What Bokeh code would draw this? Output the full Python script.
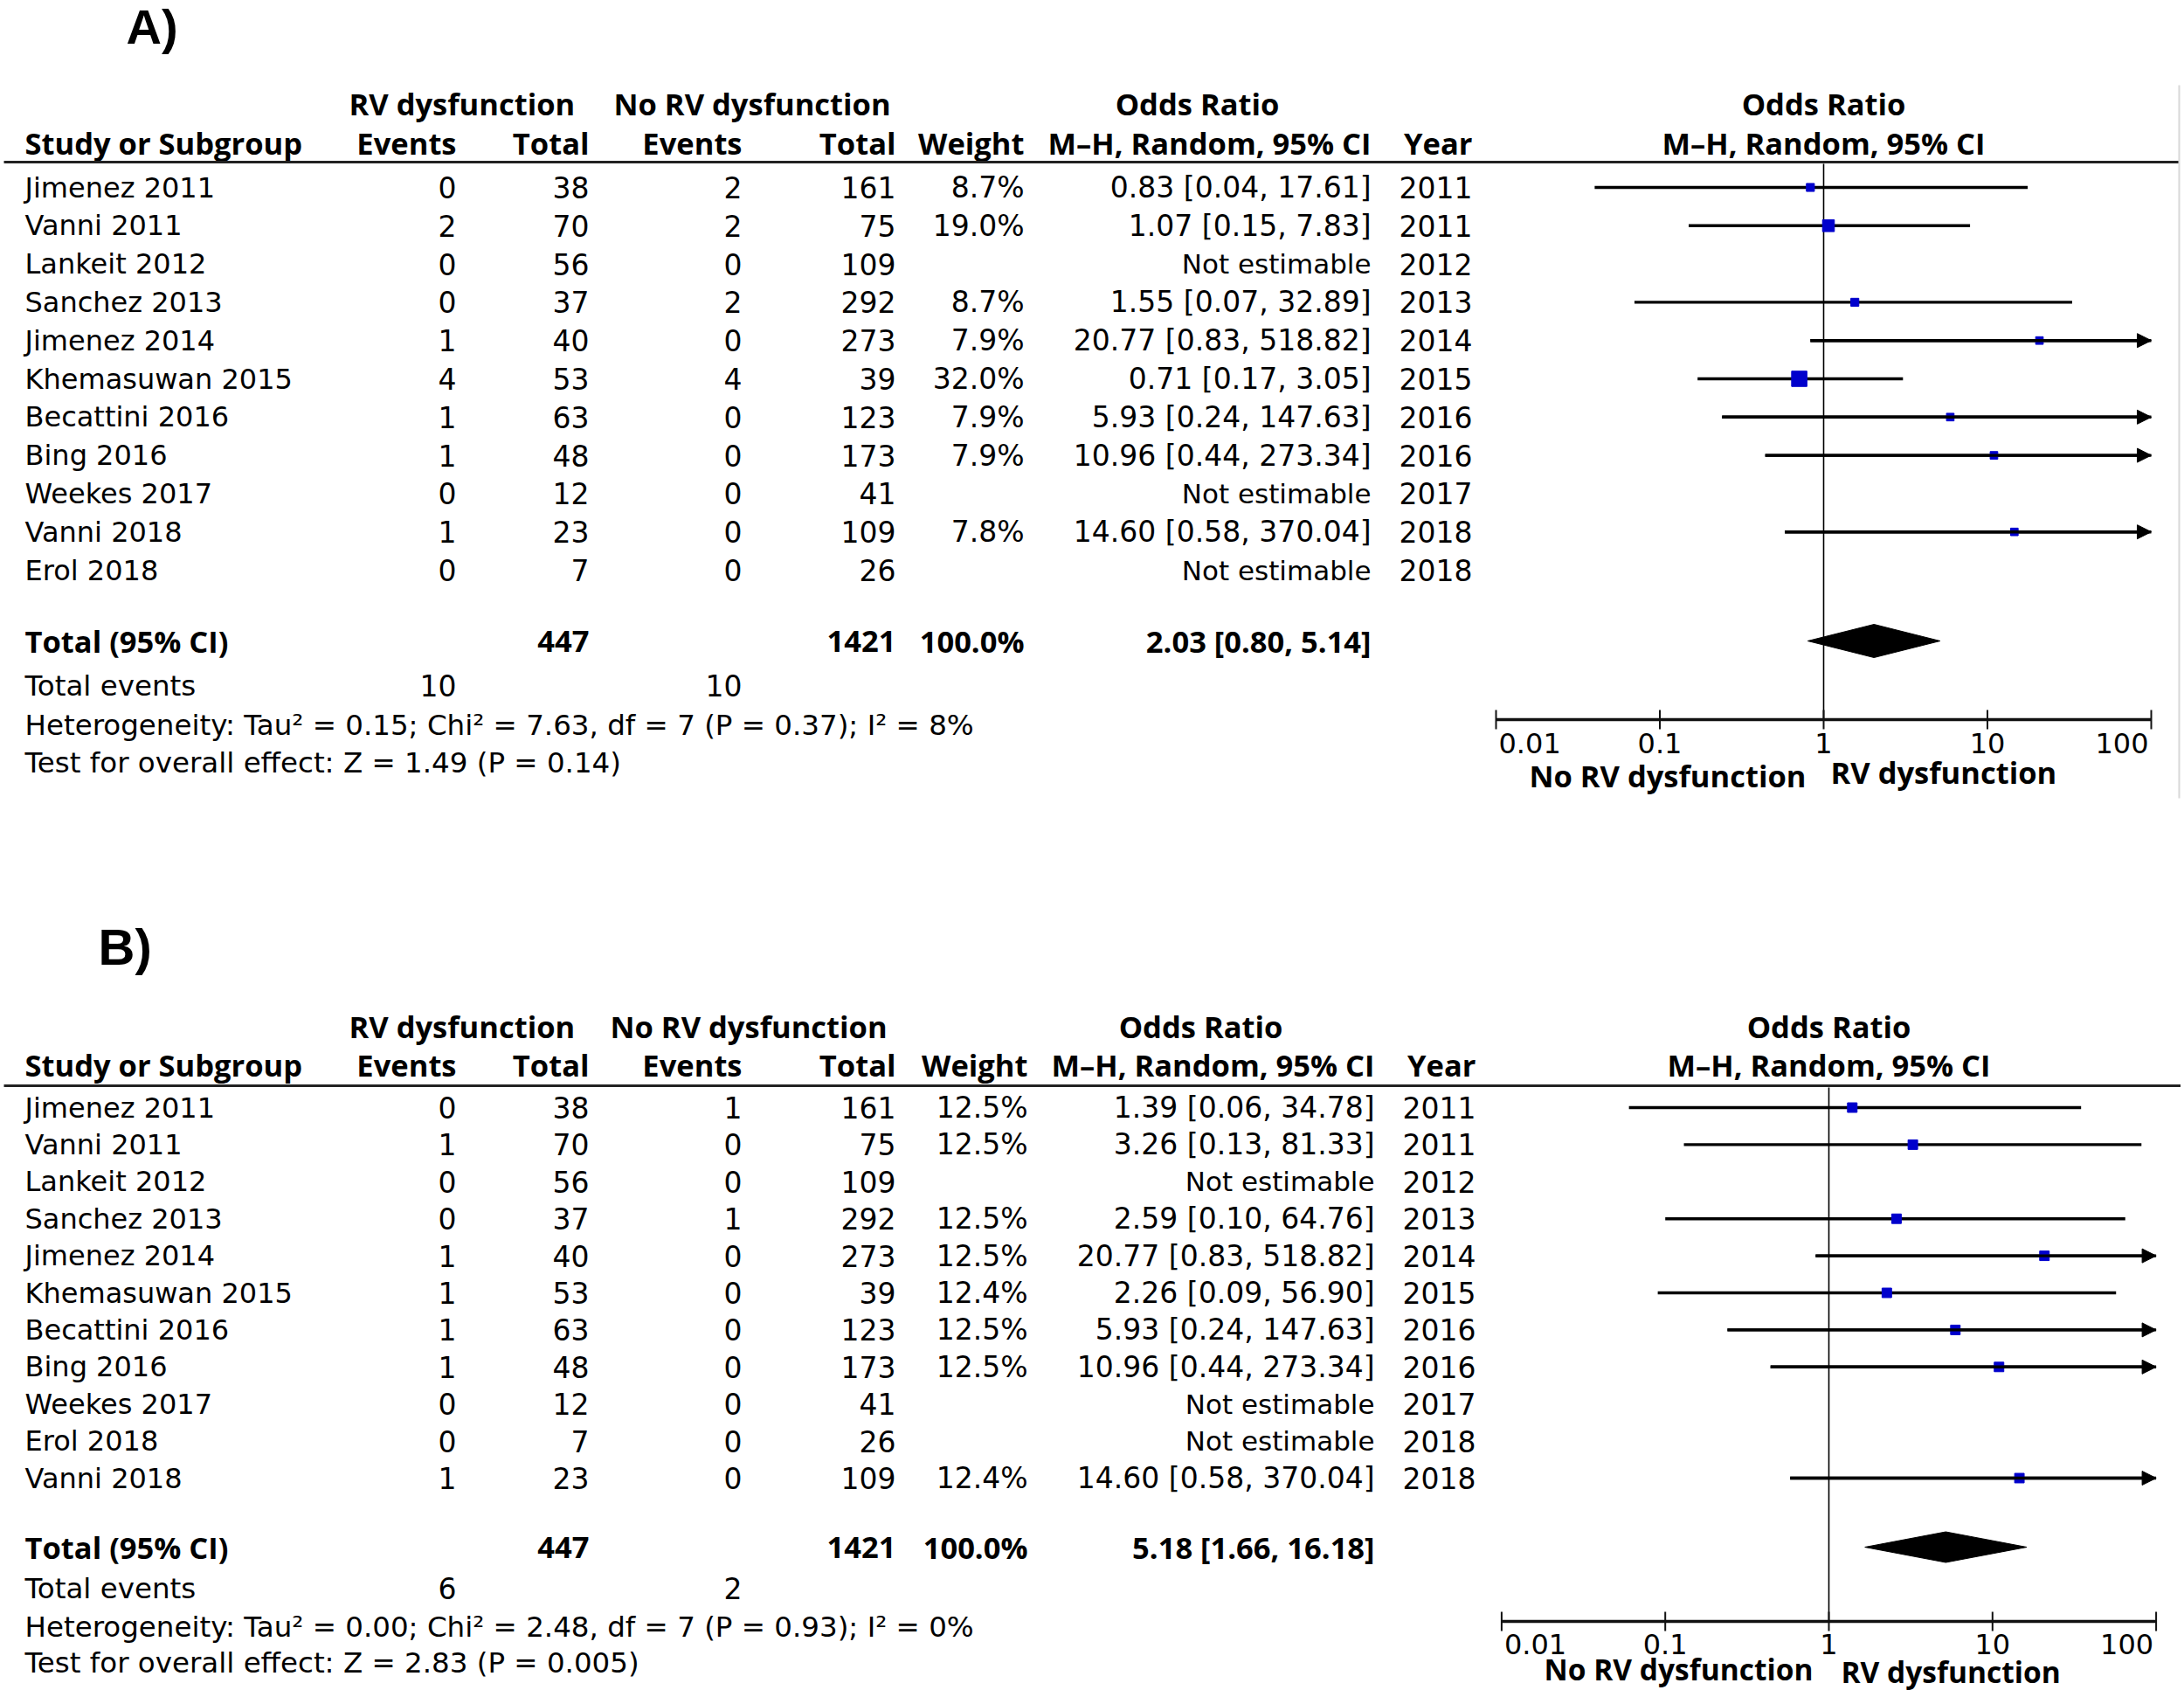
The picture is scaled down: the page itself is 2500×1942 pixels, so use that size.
import math
from bokeh.plotting import figure
from bokeh.models import Range1d, LogScale, Arrow, NormalHead, ColumnDataSource
from bokeh.core.properties import value
from bokeh.embed import file_html
from bokeh.resources import INLINE

# ---------------- data: panel A ----------------
studies_A = ["Jimenez 2011", "Vanni 2011", "Lankeit 2012", "Sanchez 2013", "Jimenez 2014",
             "Khemasuwan 2015", "Becattini 2016", "Bing 2016", "Weekes 2017", "Vanni 2018", "Erol 2018"]
rv_events_A = [0, 2, 0, 0, 1, 4, 1, 1, 0, 1, 0]
rv_total_A = [38, 70, 56, 37, 40, 53, 63, 48, 12, 23, 7]
norv_events_A = [2, 2, 0, 2, 0, 4, 0, 0, 0, 0, 0]
norv_total_A = [161, 75, 109, 292, 273, 39, 123, 173, 41, 109, 26]
weight_A = [8.7, 19.0, None, 8.7, 7.9, 32.0, 7.9, 7.9, None, 7.8, None]
or_A = [0.83, 1.07, None, 1.55, 20.77, 0.71, 5.93, 10.96, None, 14.60, None]
lo_A = [0.04, 0.15, None, 0.07, 0.83, 0.17, 0.24, 0.44, None, 0.58, None]
hi_A = [17.61, 7.83, None, 32.89, 518.82, 3.05, 147.63, 273.34, None, 370.04, None]
year_A = [2011, 2011, 2012, 2013, 2014, 2015, 2016, 2016, 2017, 2018, 2018]
totals_A = [447, 1421]
total_events_A = [10, 10]
pooled_A = [2.03, 0.80, 5.14]
het_A = ["0.15", "7.63", "7", "0.37", "8%"]
overall_A = ["1.49", "0.14"]

# ---------------- data: panel B ----------------
studies_B = ["Jimenez 2011", "Vanni 2011", "Lankeit 2012", "Sanchez 2013", "Jimenez 2014",
             "Khemasuwan 2015", "Becattini 2016", "Bing 2016", "Weekes 2017", "Erol 2018", "Vanni 2018"]
rv_events_B = [0, 1, 0, 0, 1, 1, 1, 1, 0, 0, 1]
rv_total_B = [38, 70, 56, 37, 40, 53, 63, 48, 12, 7, 23]
norv_events_B = [1, 0, 0, 1, 0, 0, 0, 0, 0, 0, 0]
norv_total_B = [161, 75, 109, 292, 273, 39, 123, 173, 41, 26, 109]
weight_B = [12.5, 12.5, None, 12.5, 12.5, 12.4, 12.5, 12.5, None, None, 12.4]
or_B = [1.39, 3.26, None, 2.59, 20.77, 2.26, 5.93, 10.96, None, None, 14.60]
lo_B = [0.06, 0.13, None, 0.10, 0.83, 0.09, 0.24, 0.44, None, None, 0.58]
hi_B = [34.78, 81.33, None, 64.76, 518.82, 56.90, 147.63, 273.34, None, None, 370.04]
year_B = [2011, 2011, 2012, 2013, 2014, 2015, 2016, 2016, 2017, 2018, 2018]
totals_B = [447, 1421]
total_events_B = [6, 2]
pooled_B = [5.18, 1.66, 16.18]
het_B = ["0.00", "2.48", "7", "0.93", "0%"]
overall_B = ["2.83", "0.005"]

tick_values = [0.01, 0.1, 1, 10, 100]
tick_labels = ["0.01", "0.1", "1", "10", "100"]
favours_left = "No RV dysfunction"
favours_right = "RV dysfunction"

# ---------------- figure ----------------
X0, X1 = 0, 2496
Y0, Y1 = 0, 1938
p = figure(width=X1 - X0, height=Y1 - Y0, x_range=Range1d(X0, X1), y_range=Range1d(Y1, Y0),
           output_backend="svg", toolbar_location=None, min_border=0,
           x_axis_location=None, y_axis_location=None, outline_line_color=None,
           background_fill_color="white", border_fill_color="white")
p.grid.visible = False

BODY = "DejaVu Sans"
HEAD = "Open Sans"
TS = 32     # body text size
NS = 33     # numbers size
HS = 34.5   # bold header size


def log_range(c, d):
    return Range1d(10 ** ((X0 - c) / d), 10 ** ((X1 - c) / d))


p.extra_x_ranges = {"logA": log_range(2087, 187.5), "logB": log_range(2093, 187.3)}
p.extra_x_scales = {"logA": LogScale(), "logB": LogScale()}


def txt(xs, ys, texts, align="left", bold=False, size=TS, font=BODY, rn="default",
        baseline="middle", x_offset=0):
    p.text(x=xs, y=ys, text=texts, text_font=value(font), text_font_size=f"{size}px",
           text_font_style="bold" if bold else "normal", text_align=align,
           text_baseline=baseline, text_color="#000000", x_range_name=rn, x_offset=x_offset)


def panel(L, studies, rve, rvt, nre, nrt, wt, orr, lo, hi, yr, totals, tev, pooled, het, ovl):
    rn = L["rn"]
    n = len(studies)
    ys = [L["row0"] + i * L["step"] for i in range(n)]
    # panel letter
    txt([L["lab_x"]], [L["lab_y"]], [L["label"]], bold=True, size=L["lab_size"],
        font="Liberation Sans")
    # header row 1
    h1 = L["h1"]
    txt([399], [h1], ["RV dysfunction"], bold=True, size=HS, font=HEAD)
    txt([L["nrv_x"]], [h1], ["No RV dysfunction"], bold=True, size=HS, font=HEAD)
    txt([L["or_c"]], [h1], ["Odds Ratio"], align="center", bold=True, size=HS, font=HEAD)
    txt([1], [h1], ["Odds Ratio"], align="center", bold=True, size=HS, font=HEAD, rn=rn)
    # header row 2
    h2 = L["h2"]
    txt([28], [h2], ["Study or Subgroup"], bold=True, size=HS, font=HEAD)
    txt([522, 674, 849, 1025, L["w_r"], L["ci_r"], L["yr_r"]], [h2] * 7,
        ["Events", "Total", "Events", "Total", "Weight", "M\u2013H, Random, 95% CI", "Year"],
        align="right", bold=True, size=HS, font=HEAD)
    txt([1], [h2], ["M\u2013H, Random, 95% CI"], align="center", bold=True, size=HS, font=HEAD, rn=rn)
    # rule
    p.segment(x0=[4], x1=[L["rule_end"]], y0=[L["rule"]], y1=[L["rule"]], line_color="#222222", line_width=3)
    # body
    txt([28] * n, ys, studies)
    txt([522] * n, ys, [str(v) for v in rve], align="right", size=NS)
    txt([674] * n, ys, [str(v) for v in rvt], align="right", size=NS)
    txt([849] * n, ys, [str(v) for v in nre], align="right", size=NS)
    txt([1025] * n, ys, [str(v) for v in nrt], align="right", size=NS)
    txt([L["w_r"]] * n, ys, ["" if w is None else f"{w:.1f}%" for w in wt], align="right", size=NS)
    est = [i for i in range(n) if orr[i] is not None]
    ne = [i for i in range(n) if orr[i] is None]
    txt([L["ci_r"]] * len(est), [ys[i] for i in est],
        [f"{orr[i]:.2f} [{lo[i]:.2f}, {hi[i]:.2f}]" for i in est], align="right", size=NS)
    txt([L["ci_r"]] * len(ne), [ys[i] for i in ne], ["Not estimable"] * len(ne), align="right", size=31)
    txt([L["yr_r"]] * n, ys, [str(v) for v in yr], align="right", size=NS)
    # totals
    ty = L["tot"]
    txt([28], [ty], ["Total (95% CI)"], bold=True, size=HS, font=HEAD)
    txt([674, 1025, L["w_r"]], [ty] * 3, [str(totals[0]), str(totals[1]), "100.0%"],
        align="right", bold=True, size=HS, font=HEAD)
    txt([L["ci_r"]], [ty], [f"{pooled[0]:.2f} [{pooled[1]:.2f}, {pooled[2]:.2f}]"],
        align="right", bold=True, size=HS, font=HEAD)
    txt([28], [L["tev"]], ["Total events"], size=32.5)
    txt([522, 849], [L["tev"]] * 2, [str(tev[0]), str(tev[1])], align="right", size=NS)
    txt([28], [L["het"]], [f"Heterogeneity: Tau\u00b2 = {het[0]}; Chi\u00b2 = {het[1]}, df = {het[2]} "
                           f"(P = {het[3]}); I\u00b2 = {het[4]}"], size=32.5)
    txt([28], [L["test"]], [f"Test for overall effect: Z = {ovl[0]} (P = {ovl[1]})"], size=32.5)

    # ---- forest ----
    tmin, tmax = min(tick_values), max(tick_values)
    p.segment(x0=[1], x1=[1], y0=[L["rule"] + 2], y1=[L["axis"]], line_color="black",
              line_width=1.6, x_range_name=rn)
    sx0 = [max(lo[i], tmin) for i in est]
    sx1 = [min(hi[i], tmax) for i in est]
    sy = [ys[i] for i in est]
    p.segment(x0=sx0, x1=sx1, y0=sy, y1=sy, line_color="black", line_width=3.4, x_range_name=rn)
    clip = [i for i in est if hi[i] > tmax]
    src = ColumnDataSource(dict(x0=[lo[i] for i in clip], x1=[tmax] * len(clip),
                                y=[ys[i] for i in clip]))
    p.add_layout(Arrow(end=NormalHead(size=16, fill_color="black", line_color="black", line_width=1),
                       x_start="x0", y_start="y", x_end="x1", y_end="y", source=src,
                       line_width=3.4, line_color="black", x_range_name=rn))
    p.scatter(x=[orr[i] for i in est], y=sy, size=[3.1 * math.sqrt(wt[i]) for i in est],
              marker="square", fill_color="#0000cc", line_color="#0000cc", x_range_name=rn)
    # pooled diamond
    h = L["dh"]
    p.patch(x=[pooled[1], pooled[0], pooled[2], pooled[0]], y=[ty, ty - h, ty, ty + h],
            fill_color="black", line_color="black", x_range_name=rn)
    # axis
    ay = L["axis"]
    p.segment(x0=[tmin], x1=[tmax], y0=[ay], y1=[ay], line_color="#111111", line_width=3.4, x_range_name=rn)
    p.segment(x0=tick_values, x1=tick_values, y0=[ay - 11] * 5, y1=[ay + 11] * 5,
              line_color="#111111", line_width=2, x_range_name=rn)
    ly = L["tl"]
    txt([tick_values[0]], [ly], [tick_labels[0]], align="left", rn=rn, x_offset=3)
    txt(tick_values[1:4], [ly] * 3, tick_labels[1:4], align="center", rn=rn)
    txt([tick_values[4]], [ly], [tick_labels[4]], align="right", rn=rn, x_offset=-3)
    txt([1], [L["fl"]], [favours_left], align="right", bold=True, size=L["fs"], font=HEAD, rn=rn,
        x_offset=L["fl_off"])
    txt([1], [L["fr"]], [favours_right], align="left", bold=True, size=L["fs"], font=HEAD, rn=rn,
        x_offset=L["fr_off"])


LA = dict(rn="logA", label="A)", lab_x=144, lab_y=30, lab_size=56, h1=118, h2=163, rule=185, rule_end=2494,
          row0=214, step=43.8, tot=733, tev=784, het=829, test=872, nrv_x=702, or_c=1370,
          w_r=1172, ci_r=1569, yr_r=1685, axis=823, tl=850, fl=887, fr=883, fl_off=-20, fr_off=8,
          fs=HS, dh=19)
LB = dict(rn="logB", label="B)", lab_x=112, lab_y=1083, lab_size=58, h1=1174, h2=1218, rule=1242, rule_end=2496,
          row0=1267, step=42.4, tot=1770, tev=1817, het=1861, test=1902, nrv_x=698, or_c=1374,
          w_r=1176, ci_r=1573, yr_r=1689, axis=1855, tl=1881, fl=1909, fr=1912, fl_off=-18, fr_off=14,
          fs=33.5, dh=17.5)

panel(LA, studies_A, rv_events_A, rv_total_A, norv_events_A, norv_total_A, weight_A, or_A, lo_A, hi_A,
      year_A, totals_A, total_events_A, pooled_A, het_A, overall_A)
panel(LB, studies_B, rv_events_B, rv_total_B, norv_events_B, norv_total_B, weight_B, or_B, lo_B, hi_B,
      year_B, totals_B, total_events_B, pooled_B, het_B, overall_B)

# faint right-edge border of panel A
p.segment(x0=[2494], x1=[2494], y0=[97], y1=[913], line_color="#d8d8d8", line_width=2)

open("out.html", "w").write(file_html(p, INLINE))
